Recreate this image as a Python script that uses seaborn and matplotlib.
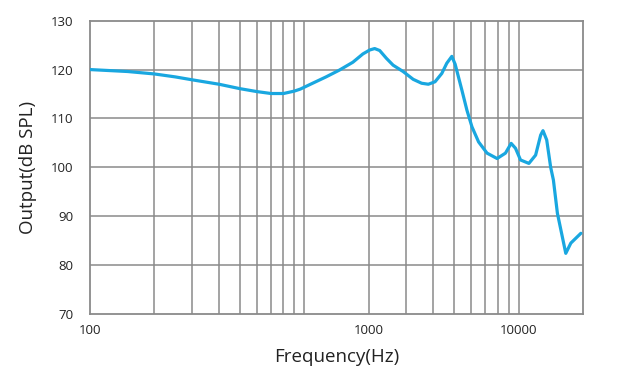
import matplotlib
matplotlib.use("Agg")
import matplotlib.pyplot as plt
from matplotlib.ticker import NullFormatter
import seaborn as sns
import pandas as pd

# frequency response (Hz, dB SPL)
freq = [100, 150, 200, 250, 300, 400, 500, 600, 700, 800, 900, 958,
        1094, 1264, 1460, 1686, 1878, 2020, 2131, 2249, 2418, 2598,
        2893, 3225, 3531, 3794, 4077, 4384, 4627, 4884, 5061, 5441,
        5743, 6062, 6511, 7131, 7944, 8690, 9241, 9681, 10220, 11180,
        12020, 12690, 13010, 13540, 14130, 14550, 15190, 16620, 17550, 19550]
spl = [120.0, 119.6, 119.1, 118.5, 117.9, 117.0, 116.1, 115.5, 115.1, 115.1, 115.6, 116.0,
       117.2, 118.5, 119.9, 121.5, 123.2, 124.0, 124.3, 123.9, 122.3, 120.9,
       119.6, 118.0, 117.2, 117.0, 117.5, 119.2, 121.3, 122.7, 121.1, 115.8,
       111.7, 108.3, 105.2, 102.9, 101.8, 102.9, 104.9, 103.9, 101.5, 100.8,
       102.5, 106.6, 107.5, 105.6, 100.0, 97.4, 90.6, 82.4, 84.5, 86.5]

grid_freqs = [200, 300, 400, 500, 600, 700, 800, 900, 1000,
              2000, 3000, 4000, 5000, 6000, 7000, 8000, 9000, 10000]
tick_pos = [100, 2000, 10000]
tick_text = ["100", "1000", "10000"]
y_ticks = [70, 80, 90, 100, 110, 120, 130]

df = pd.DataFrame({"freq": freq, "spl": spl})

sns.set_style("white")
plt.rcParams["font.family"] = ["Open Sans", "DejaVu Sans"]

fig = plt.figure(figsize=(6.22, 3.81), dpi=100)
ax = fig.add_axes([0.1447, 0.176, 0.7926, 0.7697])

sns.lineplot(data=df, x="freq", y="spl", sort=False, estimator=None,
             color="#19a7e0", linewidth=2.3, ax=ax, zorder=3)

ax.set_xscale("log")
ax.set_xlim(100, 20000)
ax.set_ylim(70, 130)
ax.set_xticks(tick_pos)
ax.set_xticklabels(tick_text)
ax.set_xticks(grid_freqs, minor=True)
ax.xaxis.set_minor_formatter(NullFormatter())
ax.set_yticks(y_ticks)
ax.tick_params(which="both", length=0, labelsize=9.5, colors="#222222")
ax.tick_params(axis="x", pad=7)
ax.tick_params(axis="y", pad=12)

ax.grid(False)
for f in grid_freqs:
    ax.axvline(f, color="#8a8a8a", linewidth=1.1, zorder=1)
for y in y_ticks[1:-1]:
    ax.axhline(y, color="#8a8a8a", linewidth=1.1, zorder=1)
for s in ax.spines.values():
    s.set_color("#8a8a8a")
    s.set_linewidth(1.3)

ax.set_xlabel("Frequency(Hz)", fontsize=13.5, color="#222222", labelpad=8)
ax.set_ylabel("Output(dB SPL)", fontsize=13.5, color="#222222", labelpad=10)

fig.savefig("out.png", dpi=100)
